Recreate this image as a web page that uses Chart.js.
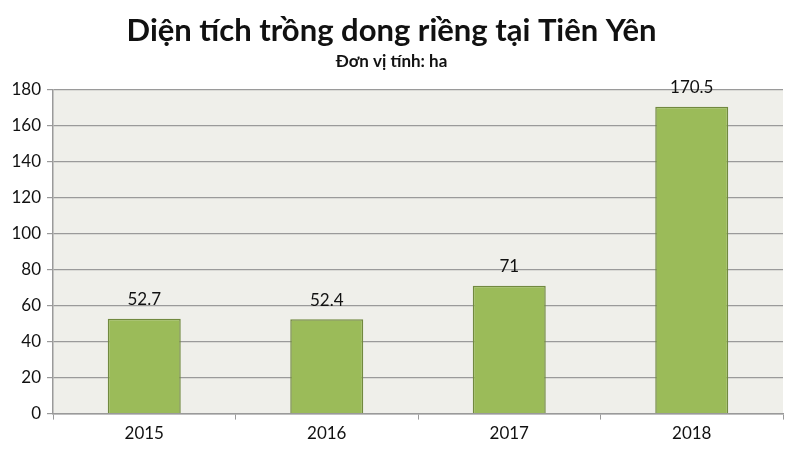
<!DOCTYPE html>
<html>
<head>
<meta charset="utf-8">
<script src="https://cdn.jsdelivr.net/npm/chart.js@4/dist/chart.umd.min.js"></script>
<style>
html,body{margin:0;padding:0;background:#fff;}
#wrap{width:800px;height:450px;}
</style>
</head>
<body>
<div id="wrap"><canvas id="c" width="800" height="450"></canvas></div>
<script>
const titleText = "Diện tích trồng dong riềng tại Tiên Yên";
const subtitleText = "Đơn vị tính: ha";
const categories = ["2015", "2016", "2017", "2018"];
const areaValues = [52.7, 52.4, 71, 170.5];
const valueLabels = ["52.7", "52.4", "71", "170.5"];

const FONT = "Lato, 'Open Sans', sans-serif";

const plotBg = {
  id: 'plotBg',
  beforeDraw(chart) {
    const {ctx, chartArea: a} = chart;
    ctx.save();
    ctx.fillStyle = '#efefea';
    ctx.fillRect(a.left, a.top, a.right - a.left, a.bottom - a.top);
    ctx.restore();
  }
};

const valueLabelPlugin = {
  id: 'valueLabels',
  afterDatasetsDraw(chart) {
    const {ctx} = chart;
    const meta = chart.getDatasetMeta(0);
    ctx.save();
    ctx.font = "17px " + FONT;
    ctx.fillStyle = '#111';
    ctx.textAlign = 'center';
    ctx.textBaseline = 'middle';
    meta.data.forEach((bar, i) => {
      ctx.fillText(valueLabels[i], bar.x, bar.y - 19);
    });
    ctx.restore();
  }
};

new Chart(document.getElementById('c'), {
  type: 'bar',
  data: {
    labels: categories,
    datasets: [{
      data: areaValues,
      backgroundColor: '#9bbb59',
      borderColor: '#71893f',
      borderWidth: 1.5,
      categoryPercentage: 1.0,
      barPercentage: 0.4
    }]
  },
  options: {
    responsive: false,
    animation: false,
    devicePixelRatio: 1,
    layout: { padding: { left: 0, right: 17, top: 0, bottom: 2 } },
    plugins: {
      legend: { display: false },
      tooltip: { enabled: false },
      title: {
        display: true,
        text: titleText,
        color: '#111',
        font: { family: FONT, size: 31, weight: 'bold' },
        padding: { top: 12, bottom: 2 }
      },
      subtitle: {
        display: true,
        text: subtitleText,
        color: '#111',
        font: { family: FONT, size: 17, weight: 'bold' },
        padding: { top: 0, bottom: 18 }
      }
    },
    scales: {
      x: {
        grid: {
          offset: true,
          drawOnChartArea: false,
          drawTicks: true,
          tickLength: 6,
          color: '#9a9a9a'
        },
        border: { color: '#9a9a9a', width: 1.5 },
        ticks: {
          color: '#111',
          font: { family: FONT, size: 17 },
          padding: 4
        }
      },
      y: {
        min: 0,
        max: 180,
        afterFit(scale) { scale.width = 53; },
        grid: {
          color: '#9a9a9a',
          lineWidth: 1.2,
          tickLength: 6
        },
        border: { color: '#9a9a9a', width: 1.5 },
        ticks: {
          stepSize: 20,
          color: '#111',
          font: { family: FONT, size: 17 },
          padding: 6
        }
      }
    }
  },
  plugins: [plotBg, valueLabelPlugin]
});
</script>
</body>
</html>
